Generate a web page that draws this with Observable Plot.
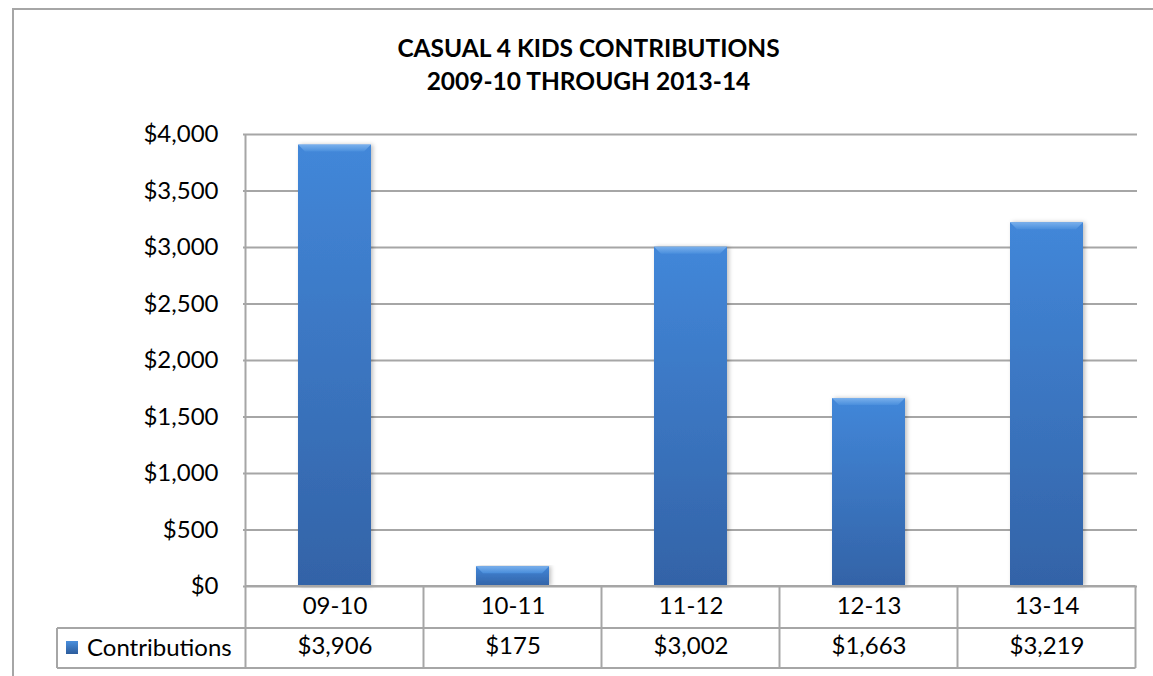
<!DOCTYPE html>
<html><head><meta charset="utf-8">
<script src="https://cdn.jsdelivr.net/npm/d3@7"></script>
<script src="https://cdn.jsdelivr.net/npm/@observablehq/plot@0.6"></script>
<style>
body{margin:0;background:#fff;font-family:Lato, "Open Sans", sans-serif;overflow:hidden;}
#frame{position:absolute;left:12px;top:8px;width:1200px;height:700px;border-left:2px solid #a6a6a6;border-top:2px solid #a6a6a6;}
#title{position:absolute;left:12px;top:31px;width:1153px;text-align:center;font-weight:bold;font-size:24.5px;line-height:33px;color:#000;}
#chart{position:absolute;left:0;top:110px;}
</style></head><body>
<div id="frame"></div>
<div id="title">CASUAL 4 KIDS CONTRIBUTIONS<br>2009-10 THROUGH 2013-14</div>
<div id="chart"></div>
<script>
const seasons = ["09-10", "10-11", "11-12", "12-13", "13-14"];
const contributions = [3906, 175, 3002, 1663, 3219];
const yTicks = [0, 500, 1000, 1500, 2000, 2500, 3000, 3500, 4000];
const seriesName = "Contributions";

const data = seasons.map((s, i) => ({season: s, value: contributions[i]}));
const money = d => "$" + d3.format(",")(d);
const grey = "#a6a6a6";
const fs = 24;

const plot = Plot.plot({
  width: 1153,
  height: 566,
  marginTop: 24,
  marginBottom: 90,
  marginLeft: 243,
  marginRight: 16,
  style: {fontFamily: "Lato, 'Open Sans', sans-serif", fontSize: fs + "px", color: "#000", background: "transparent"},
  x: {domain: seasons, paddingInner: 0.59, paddingOuter: 0.295, axis: null},
  y: {domain: [0, 4000], axis: null},
  marks: [
    Plot.gridY(yTicks, {stroke: grey, strokeOpacity: 1, strokeWidth: 2}),
    Plot.barY(data, {x: "season", y: "value", fill: "url(#barGrad)"}),
    Plot.axisY(yTicks, {tickSize: 0, tickPadding: 25, tickFormat: money, fontSize: fs, label: null, fill: "#000"}),
    Plot.text(data, {x: "season", text: "season", frameAnchor: "bottom", dy: 27, fontSize: fs, fill: "#000"}),
    Plot.text(data, {x: "season", text: d => money(d.value), frameAnchor: "bottom", dy: 67, fontSize: fs, fill: "#000"})
  ]
});

document.getElementById("chart").appendChild(plot);

const svg = d3.select(plot);
const defs = svg.insert("defs", ":first-child");
const g = defs.append("linearGradient").attr("id", "barGrad").attr("x1", 0).attr("y1", 0).attr("x2", 0).attr("y2", 1);
g.append("stop").attr("offset", "0%").attr("stop-color", "#4287d9");
g.append("stop").attr("offset", "100%").attr("stop-color", "#3363a7");
const f = defs.append("filter").attr("id", "shadow").attr("x", "-20%").attr("y", "-5%").attr("width", "140%").attr("height", "110%");
f.append("feDropShadow").attr("dx", 2).attr("dy", 0).attr("stdDeviation", 2).attr("flood-color", "#000").attr("flood-opacity", 0.25);
svg.selectAll("rect").attr("filter", "url(#shadow)");

// bevel highlight along the top of each bar
const hl = defs.append("linearGradient").attr("id", "topGrad").attr("x1", 0).attr("y1", 0).attr("x2", 0).attr("y2", 1);
hl.append("stop").attr("offset", "0%").attr("stop-color", "#7fb4ee");
hl.append("stop").attr("offset", "100%").attr("stop-color", "#4a8fdd");
const xs = plot.scale("x");
const ys = plot.scale("y");
data.forEach(d => {
  const bx = xs.apply(d.season), bw = xs.bandwidth, top = ys.apply(d.value);
  svg.append("path")
    .attr("d", `M${bx},${top}H${bx + bw}L${bx + bw - 7},${top + 7}H${bx + 7}Z`)
    .attr("fill", "url(#topGrad)").attr("opacity", 0.9);
});

// data table below the plot, positioned through the plot's own x and y scales
const step = xs.step;
const outer = (step - xs.bandwidth) / 2;
const colLeft = s => xs.apply(s) - outer;
const left = colLeft(seasons[0]);
const right = colLeft(seasons[seasons.length - 1]) + step;
const y0 = ys.apply(0);
const row1 = y0 + 42, row2 = y0 + 82;
const legendLeft = 57;
const t = svg.append("g").attr("stroke", grey).attr("stroke-width", 2).attr("fill", "none");
t.append("line").attr("x1", left).attr("x2", right).attr("y1", y0).attr("y2", y0);
t.append("line").attr("x1", legendLeft).attr("x2", right).attr("y1", row1).attr("y2", row1);
t.append("line").attr("x1", legendLeft).attr("x2", right).attr("y1", row2).attr("y2", row2);
t.append("line").attr("x1", left).attr("x2", left).attr("y1", ys.apply(4000)).attr("y2", row2);
t.append("line").attr("x1", legendLeft).attr("x2", legendLeft).attr("y1", row1).attr("y2", row2);
seasons.forEach(s => {
  const xr = colLeft(s) + step;
  t.append("line").attr("x1", xr).attr("x2", xr).attr("y1", y0).attr("y2", row2);
});
const lg = defs.append("linearGradient").attr("id", "keyGrad").attr("x1", 0).attr("y1", 0).attr("x2", 0).attr("y2", 1);
lg.append("stop").attr("offset", "0%").attr("stop-color", "#4a8fdd");
lg.append("stop").attr("offset", "100%").attr("stop-color", "#2c5c9c");
svg.append("rect").attr("x", 66).attr("y", row1 + 13).attr("width", 12).attr("height", 13).attr("fill", "url(#keyGrad)");
svg.append("text").attr("x", 87).attr("y", (row1 + row2) / 2).attr("dy", "0.35em")
  .attr("text-anchor", "start").attr("font-size", fs).attr("fill", "#000").text(seriesName);
</script>
</body></html>
